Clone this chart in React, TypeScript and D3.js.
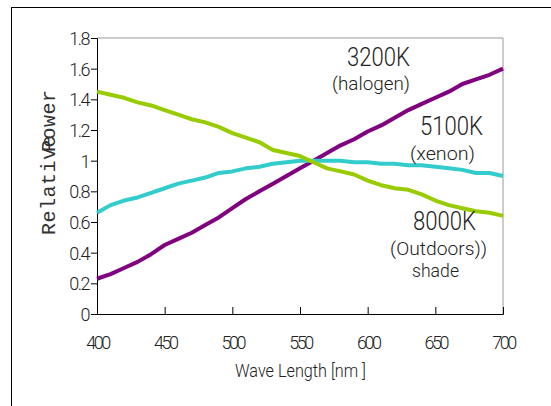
import { useRef, useEffect } from "react";
import * as d3 from "d3";

// wavelength samples, nm
const wavelengths = [400, 410, 420, 430, 440, 450, 460, 470, 480, 490, 500, 510, 520, 530, 540, 550, 560, 570, 580, 590, 600, 610, 620, 630, 640, 650, 660, 670, 680, 690, 700];

const halogen3200 = [0.23, 0.26, 0.30, 0.34, 0.39, 0.45, 0.49, 0.53, 0.58, 0.63, 0.69, 0.75, 0.80, 0.85, 0.90, 0.95, 1.0, 1.05, 1.10, 1.14, 1.19, 1.23, 1.28, 1.33, 1.37, 1.41, 1.45, 1.50, 1.53, 1.56, 1.60];
const xenon5100 = [0.66, 0.71, 0.74, 0.76, 0.79, 0.82, 0.85, 0.87, 0.89, 0.92, 0.93, 0.95, 0.96, 0.98, 0.99, 1.0, 1.0, 1.0, 1.0, 0.99, 0.99, 0.98, 0.98, 0.97, 0.97, 0.96, 0.95, 0.94, 0.92, 0.92, 0.90];
const shade8000 = [1.45, 1.43, 1.41, 1.38, 1.36, 1.33, 1.30, 1.27, 1.25, 1.22, 1.18, 1.15, 1.12, 1.07, 1.05, 1.03, 0.99, 0.95, 0.93, 0.91, 0.87, 0.84, 0.82, 0.81, 0.78, 0.74, 0.71, 0.69, 0.67, 0.66, 0.64];

const yTicks = [0, 0.2, 0.4, 0.6, 0.8, 1, 1.2, 1.4, 1.6, 1.8];
const xTicks = [400, 450, 500, 550, 600, 650, 700];

const series = [
  { name: "3200K", values: halogen3200, color: "#800080" },
  { name: "5100K", values: xenon5100, color: "#33cccc" },
  { name: "8000K", values: shade8000, color: "#99cc00" },
];

const width = 551;
const height = 406;
const thin = "Roboto, 'DejaVu Sans', sans-serif";

export default function App() {
  const root = useRef<SVGSVGElement>(null);

  useEffect(() => {
    const svg = d3.select(root.current);
    svg.selectAll("*").remove();

    const x = d3.scaleLinear([400, 700], [97, 503]);
    const y = d3.scaleLinear([0, 1.8], [314, 38]);

    // outer frame (cut by window)
    svg.append("rect")
      .attr("x", 11.5).attr("y", 7.5)
      .attr("width", 600).attr("height", 500)
      .attr("fill", "none").attr("stroke", "#000").attr("stroke-width", 1);

    // plot box gray top/right
    svg.append("path")
      .attr("d", `M${x(400)},${y(1.8)}H${x(700)}V${y(0)}`)
      .attr("fill", "none").attr("stroke", "#999").attr("stroke-width", 1);

    const yAxis = svg.append("g")
      .attr("transform", `translate(${x(400)},0)`)
      .call(d3.axisLeft(y).tickValues(yTicks).tickSize(6).tickFormat(d => d3.format("")(d)));
    yAxis.select(".domain").attr("stroke", "#000");
    yAxis.selectAll("text")
      .attr("x", -8)
      .attr("dy", "0.36em")
      .style("font-family", thin)
      .style("font-weight", "300")
      .style("font-size", "18px")
      .style("letter-spacing", "-1.5px")
      .attr("fill", "#222");

    const xAxis = svg.append("g")
      .attr("transform", `translate(0,${y(0)})`)
      .call(d3.axisBottom(x).tickValues(xTicks).tickSize(-7).tickFormat(d3.format("d")));
    xAxis.select(".domain").attr("stroke", "#000");
    xAxis.selectAll("text")
      .attr("y", 22)
      .attr("dy", "0.71em")
      .style("font-family", thin)
      .style("font-weight", "300")
      .style("font-size", "18px")
      .style("letter-spacing", "-2.5px")
      .attr("fill", "#222");

    const line = d3.line<number>()
      .x((_, i) => x(wavelengths[i]))
      .y(d => y(d))
      .curve(d3.curveLinear);

    svg.append("g").selectAll("path")
      .data(series)
      .enter()
      .append("path")
      .attr("d", d => line(d.values))
      .attr("fill", "none")
      .attr("stroke", d => d.color)
      .attr("stroke-width", 4)
      .attr("stroke-linejoin", "round");

    // axis titles
    const mono = "'Liberation Mono', 'DejaVu Sans Mono', monospace";
    svg.append("text")
      .attr("transform", "translate(55,235) rotate(-90)")
      .style("font-family", mono).style("font-size", "20px")
      .style("letter-spacing", "0.5px")
      .attr("fill", "#333")
      .text("Relative");
    svg.append("text")
      .attr("transform", "translate(55,152) rotate(-90)")
      .style("font-family", mono).style("font-size", "20px")
      .style("letter-spacing", "0.5px")
      .attr("fill", "#333")
      .text("Power");

    svg.append("text")
      .attr("x", 235).attr("y", 377)
      .attr("textLength", 131)
      .attr("lengthAdjust", "spacingAndGlyphs")
      .style("font-family", thin).style("font-size", "19px")
      .style("font-weight", "300")
      .attr("fill", "#222")
      .text("Wave Length [nm ]");

    const labels = [
      { t: "3200K", x: 347, y: 66, w: 63, s: 25 },
      { t: "(halogen)", x: 332, y: 90, w: 78, s: 19 },
      { t: "5100K", x: 420, y: 135, w: 63, s: 25 },
      { t: "(xenon)", x: 410, y: 160, w: 65, s: 19 },
      { t: "8000K", x: 413, y: 230, w: 63, s: 25 },
      { t: "(Outdoors))", x: 390, y: 255, w: 97, s: 19 },
      { t: "shade", x: 412, y: 277, w: 47, s: 19 },
    ];
    svg.append("g").selectAll("text")
      .data(labels)
      .enter()
      .append("text")
      .attr("x", d => d.x).attr("y", d => d.y)
      .attr("textLength", d => d.w)
      .attr("lengthAdjust", "spacingAndGlyphs")
      .style("font-family", thin)
      .style("font-weight", "300")
      .style("font-size", d => d.s + "px")
      .attr("fill", "#222")
      .text(d => d.t);
  }, []);

  return (
    <svg ref={root} width={width} height={height}
      style={{ position: "absolute", left: 0, top: 0, background: "#fff" }} />
  );
}
